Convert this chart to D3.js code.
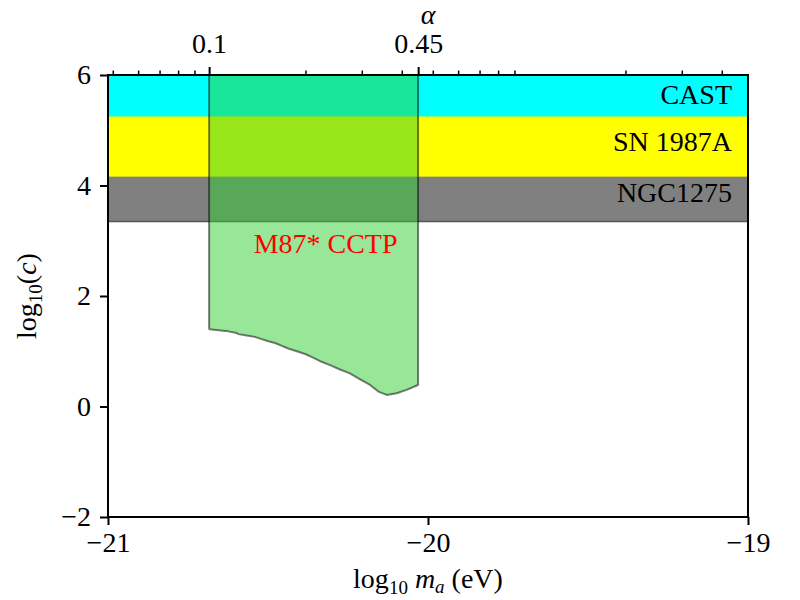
<!DOCTYPE html>
<html>
<head>
<meta charset="utf-8">
<script src="https://cdn.jsdelivr.net/npm/d3@7"></script>
<style>
  body { margin: 0; background: #fff; }
  svg text { font-family: "Liberation Serif", "DejaVu Serif", serif !important; fill: #000; }
</style>
</head>
<body>
<svg id="chart"></svg>
<script>
// axis ticks
const xTicks = [-21, -20, -19];
const yTicks = [-2, 0, 2, 4, 6];
const alphaTicks = [0.1, 0.45];
const alphaMinorTicks = [0.05, 0.06, 0.07, 0.08, 0.09, 0.2, 0.3, 0.4, 0.5, 0.6, 0.7, 0.8, 0.9, 2, 3, 4];
const alphaOffset = 19.684; // log10(alpha) = log10(m_a) + offset

// excluded bands (lower edge, drawn up to top of plot)
const bandNames = ["NGC1275", "SN 1987A", "CAST"];
const bandLower = [3.35, 4.16, 5.25];
const bandColors = ["#808080", "#ffff00", "#00ffff"];
const bandLabelX = -19.05;
const bandLabelY = [3.86, 4.79, 5.64];

// M87* CCTP region lower boundary
const cctpLogMa = [-20.684, -20.683, -20.655, -20.624, -20.598, -20.593, -20.562, -20.541, -20.520,
                   -20.499, -20.478, -20.462, -20.437, -20.410, -20.384, -20.361, -20.337, -20.306,
                   -20.275, -20.244, -20.212, -20.181, -20.155, -20.129, -20.098, -20.067, -20.035,
                   -20.031];
const cctpLogC = [1.41, 1.40, 1.38, 1.36, 1.33, 1.31, 1.28, 1.26, 1.22,
                  1.18, 1.15, 1.11, 1.05, 1.00, 0.95, 0.89, 0.82, 0.75,
                  0.67, 0.60, 0.49, 0.39, 0.27, 0.21, 0.24, 0.30, 0.38,
                  0.39];
const cctpLabel = ["M87* CCTP"];
const cctpLabelPos = [-20.32, 2.95];

const svgWidth = 800;
const svgHeight = 600;
const margin = { top: 75, right: 52, bottom: 83, left: 108 };
const width = svgWidth - margin.left - margin.right;
const height = svgHeight - margin.top - margin.bottom;

const svg = d3.select("#chart")
    .attr("width", svgWidth)
    .attr("height", svgHeight);

const g = svg.append("g")
    .attr("transform", `translate(${margin.left},${margin.top})`);

const x = d3.scaleLinear().domain([-21, -19]).range([0, width]);
const y = d3.scaleLinear().domain([-2, 6]).range([height, 0]);
const xAlpha = d3.scaleLog()
    .domain([Math.pow(10, -21 + alphaOffset), Math.pow(10, -19 + alphaOffset)])
    .range([0, width]);

g.append("clipPath").attr("id", "plotclip")
    .append("rect").attr("width", width).attr("height", height);

const plot = g.append("g").attr("clip-path", "url(#plotclip)");

// bands
const yTop = y.domain()[1];
plot.selectAll("rect.band")
    .data(bandNames)
    .enter()
    .append("rect")
    .attr("class", "band")
    .attr("x", 0)
    .attr("width", width)
    .attr("y", (d, i) => y(yTop + 1))
    .attr("height", (d, i) => y(bandLower[i]) - y(yTop + 1))
    .attr("fill", (d, i) => bandColors[i]);

// dark lower edge of the NGC1275 band
plot.append("line")
    .attr("x1", 0).attr("x2", width)
    .attr("y1", y(bandLower[0])).attr("y2", y(bandLower[0]))
    .attr("stroke", "#555")
    .attr("stroke-width", 1.5);

// CCTP region
const pts = cctpLogMa.map((m, i) => [m, cctpLogC[i]]);
const region = [[cctpLogMa[0], yTop + 1], ...pts, [cctpLogMa[cctpLogMa.length - 1], yTop + 1]];
plot.append("path")
    .datum(region)
    .attr("d", d3.line().x(d => x(d[0])).y(d => y(d[1])))
    .attr("fill", "limegreen")
    .attr("fill-opacity", 0.5)
    .attr("stroke", "#000")
    .attr("stroke-opacity", 0.5)
    .attr("stroke-width", 2)
    .attr("stroke-linejoin", "round");

// labels
g.selectAll("text.band-label")
    .data(bandNames)
    .enter()
    .append("text")
    .attr("class", "band-label")
    .attr("x", x(bandLabelX))
    .attr("y", (d, i) => y(bandLabelY[i]))
    .attr("dy", "0.33em")
    .attr("text-anchor", "end")
    .attr("font-size", 28)
    .text(d => d);

g.append("text")
    .attr("x", x(cctpLabelPos[0]))
    .attr("y", y(cctpLabelPos[1]))
    .attr("dy", "0.33em")
    .attr("text-anchor", "middle")
    .attr("font-size", 28)
    .style("fill", "red")
    .text(cctpLabel[0]);

// axes
const fmt = d => d < 0 ? "\u2212" + Math.abs(d) : String(d);

function styleAxis(sel, fontSize) {
    sel.attr("font-family", null);
    sel.select(".domain").remove();
    sel.selectAll(".tick line").attr("stroke", "#000").attr("stroke-width", 2);
    sel.selectAll(".tick text")
        .attr("font-size", fontSize)
        .style("fill", "#000");
}

g.append("g")
    .attr("transform", `translate(0,${height})`)
    .call(d3.axisBottom(x).tickValues(xTicks).tickFormat(fmt).tickSize(8).tickPadding(7))
    .call(s => styleAxis(s, 28));

g.append("g")
    .call(d3.axisLeft(y).tickValues(yTicks).tickFormat(fmt).tickSize(8).tickPadding(9))
    .call(s => styleAxis(s, 28));

g.append("g")
    .call(d3.axisTop(xAlpha).tickValues(alphaMinorTicks).tickFormat("").tickSize(4.5))
    .call(s => styleAxis(s, 28))
    .call(s => s.selectAll(".tick line").attr("stroke-width", 1.5));

g.append("g")
    .call(d3.axisTop(xAlpha).tickValues(alphaTicks).tickFormat(d => String(d)).tickSize(8).tickPadding(14))
    .call(s => styleAxis(s, 28));

// frame
g.append("rect")
    .attr("width", width)
    .attr("height", height)
    .attr("fill", "none")
    .attr("stroke", "#000")
    .attr("stroke-width", 2);

// axis titles
const xLabel = svg.append("text")
    .attr("x", margin.left + width / 2)
    .attr("y", 588)
    .attr("text-anchor", "middle")
    .attr("font-size", 28);
xLabel.append("tspan").text("log");
xLabel.append("tspan").attr("font-size", 19).attr("dy", 6).text("10");
xLabel.append("tspan").attr("dy", -6).text(" ");
xLabel.append("tspan").attr("font-style", "italic").text("m");
xLabel.append("tspan").attr("font-style", "italic").attr("font-size", 19).attr("dy", 5).text("a");
xLabel.append("tspan").attr("dy", -5).text(" (eV)");

const yLabel = svg.append("text")
    .attr("transform", `translate(36,${margin.top + y(2)}) rotate(-90)`)
    .attr("text-anchor", "middle")
    .attr("font-size", 28);
yLabel.append("tspan").text("log");
yLabel.append("tspan").attr("font-size", 19).attr("dy", 6).text("10");
yLabel.append("tspan").attr("dy", -6).text("(");
yLabel.append("tspan").attr("font-style", "italic").text("c");
yLabel.append("tspan").text(")");

svg.append("text")
    .attr("x", margin.left + width / 2)
    .attr("y", 24)
    .attr("text-anchor", "middle")
    .attr("font-size", 28)
    .attr("font-style", "italic")
    .text("\u03b1");
</script>
</body>
</html>
